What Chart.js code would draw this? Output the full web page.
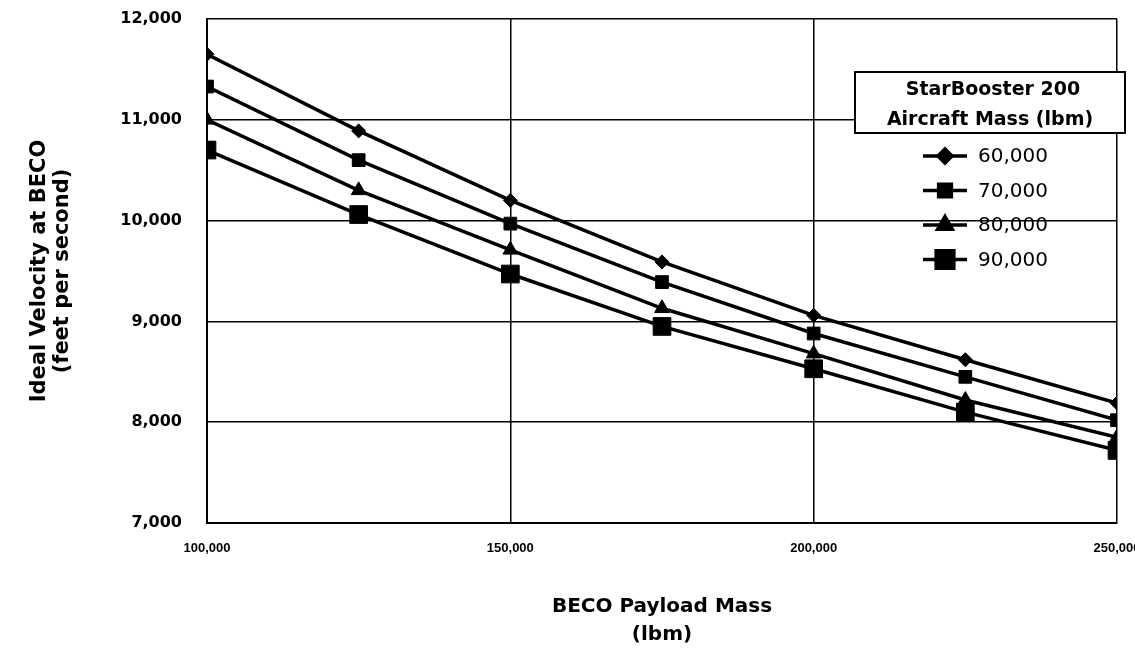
<!DOCTYPE html>
<html>
<head>
<meta charset="utf-8">
<script src="https://cdn.jsdelivr.net/npm/chart.js@4/dist/chart.umd.min.js"></script>
<style>
  html, body { margin: 0; padding: 0; background: #fff; }
  #wrap { width: 1135px; height: 654px; }
</style>
</head>
<body>
<div id="wrap"><canvas id="velocidade"></canvas></div>
<script>
// ------------------------ dados ------------------------
const payloadMass = [100000, 125000, 150000, 175000, 200000, 225000, 250000];
const vel60k = [11650, 10890, 10200, 9590, 9060, 8620, 8190];
const vel70k = [11330, 10600, 9970, 9390, 8880, 8450, 8020];
const vel80k = [11000, 10300, 9710, 9130, 8680, 8220, 7850];
const vel90k = [10700, 10060, 9470, 8950, 8530, 8100, 7720];
const seriesLabels = ["60,000", "70,000", "80,000", "90,000"];
const legendTitle = ["StarBooster 200", "Aircraft Mass (lbm)"];
const yMin = 7000, yMax = 12000, yStep = 1000;
const xMin = 100000, xMax = 250000, xStep = 50000;

const pts = (vals) => vals.map((v, i) => ({ x: payloadMass[i], y: v }));
const fmt = (v) => Number(v).toLocaleString("en-US");

function serie(label, vals, style, radius) {
    return {
        label: label,
        data: pts(vals),
        borderColor: "#000",
        backgroundColor: "#000",
        borderWidth: 3.5,
        pointStyle: style,
        pointRadius: radius,
        pointBorderWidth: 1,
        pointBackgroundColor: "#000",
        pointBorderColor: "#000",
        tension: 0
    };
}

// ------------------------ legenda desenhada ------------------------
const legendaBox = {
    id: "legendaBox",
    afterDraw(chart) {
        const ctx = chart.ctx;
        const a = chart.chartArea;
        const bx = a.right - 262, by = a.top + 53, bw = 270, bh = 61;
        ctx.save();
        ctx.fillStyle = "#fff";
        ctx.fillRect(bx, by, bw, bh);
        ctx.strokeStyle = "#000";
        ctx.lineWidth = 2;
        ctx.strokeRect(bx, by, bw, bh);
        ctx.fillStyle = "#000";
        ctx.textAlign = "center";
        ctx.textBaseline = "middle";
        ctx.font = "bold 19px 'DejaVu Sans'";
        ctx.fillText(legendTitle[0], bx + bw / 2 + 3, by + 18);
        ctx.fillText(legendTitle[1], bx + bw / 2, by + 48);

        ctx.textAlign = "left";
        ctx.font = "20px 'DejaVu Sans'";
        chart.data.datasets.forEach((ds, i) => {
            const y = by + 84 + i * 34.5;
            const x0 = bx + 68, x1 = bx + 112;
            ctx.strokeStyle = "#000";
            ctx.lineWidth = 3.5;
            ctx.beginPath();
            ctx.moveTo(x0, y);
            ctx.lineTo(x1, y);
            ctx.stroke();
            Chart.helpers.drawPoint(ctx, {
                pointStyle: ds.pointStyle,
                radius: ds.pointRadius,
                borderWidth: 1
            }, (x0 + x1) / 2, y);
            ctx.fillStyle = "#000";
            ctx.fill();
            ctx.fillText(ds.label, bx + 123, y + 1);
        });
        ctx.restore();
    }
};

// ------------------------ gráfico ------------------------
let grafico = new Chart(document.getElementById("velocidade"), {
    type: "line",
    data: {
        datasets: [
            serie(seriesLabels[0], vel60k, "rectRot", 7),
            serie(seriesLabels[1], vel70k, "rect", 9),
            serie(seriesLabels[2], vel80k, "triangle", 8.5),
            serie(seriesLabels[3], vel90k, "rect", 12.5)
        ]
    },
    options: {
        responsive: true,
        maintainAspectRatio: false,
        animation: false,
        layout: { padding: { top: 19, right: 18, left: 0, bottom: 0 } },
        plugins: {
            legend: { display: false },
            tooltip: { enabled: false }
        },
        scales: {
            x: {
                type: "linear",
                min: xMin,
                max: xMax,
                grid: { color: "#000", lineWidth: 1.5, drawTicks: false },
                border: { color: "#000", width: 2 },
                ticks: {
                    stepSize: xStep,
                    padding: 18,
                    color: "#000",
                    font: { family: "'Liberation Sans', Arial", size: 13, weight: "bold" },
                    maxRotation: 0,
                    callback: (v) => fmt(v)
                },
                title: {
                    display: true,
                    text: ["BECO Payload Mass", "(lbm)"],
                    color: "#000",
                    font: { family: "'DejaVu Sans'", size: 20, weight: "bold", lineHeight: 1.4 },
                    padding: { top: 0, bottom: 5 }
                },
                afterFit(s) {
                    s.height = 131;
                    s.paddingLeft = 0;
                    s.paddingRight = 0;
                }
            },
            y: {
                min: yMin,
                max: yMax,
                grid: { color: "#000", lineWidth: 1.5, drawTicks: false },
                border: { color: "#000", width: 2 },
                ticks: {
                    stepSize: yStep,
                    padding: 25,
                    color: "#000",
                    font: { family: "'DejaVu Sans'", size: 16, weight: "bold" },
                    callback: (v) => fmt(v)
                },
                title: {
                    display: true,
                    text: ["Ideal Velocity at BECO", "(feet per second)"],
                    color: "#000",
                    font: { family: "'DejaVu Sans'", size: 21, weight: "bold", lineHeight: 1.1 },
                    padding: { top: 28, bottom: 0 }
                },
                afterFit(s) {
                    s.width = 207;
                    s.paddingTop = 0;
                    s.paddingBottom = 0;
                }
            }
        }
    },
    plugins: [legendaBox]
});
</script>
</body>
</html>
